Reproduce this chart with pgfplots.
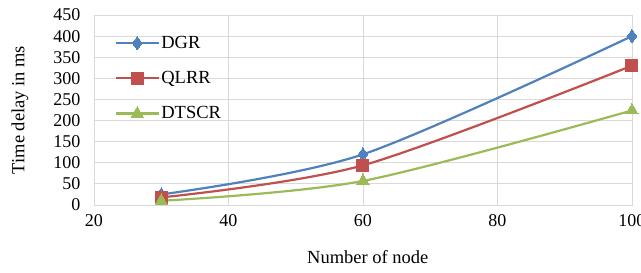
\documentclass[border=0pt]{standalone}
\usepackage{fontspec}
\setmainfont{Liberation Serif}
\usepackage{pgfplots}
\pgfplotsset{compat=1.18}
\definecolor{cblue}{HTML}{4F81BD}
\definecolor{cred}{HTML}{C0504D}
\definecolor{cgreen}{HTML}{9BBB59}
\definecolor{cgrid}{HTML}{D9D9D9}
\begin{document}
\begin{tikzpicture}
\begin{axis}[
  scale only axis,
  width=538pt, height=190pt,
  xmin=20, xmax=100, ymin=0, ymax=450,
  xtick={20,40,60,80,100}, ytick={0,50,...,450},
  grid=major,
  major grid style={cgrid, line width=0.9pt},
  axis line style={cgrid, line width=0.9pt},
  tick style={draw=none},
  /pgf/number format/assume math mode=true,
  tick label style={font=\fontsize{18}{22}\selectfont},
  xticklabel style={yshift=-6pt},
  yticklabel style={xshift=-10pt},
  xlabel={Number of node},
  ylabel={Time delay in ms},
  every axis x label/.style={at={(axis description cs:0.509,-0.274)},anchor=center,font=\fontsize{18.5}{22}\selectfont},
  every axis y label/.style={at={(axis description cs:-0.1375,0.5)},rotate=90,anchor=center,font=\fontsize{18.5}{22}\selectfont},
  legend style={at={(axis description cs:0.039,0.90)}, anchor=north west, draw=none, fill=none,
    font=\fontsize{18.5}{22}\selectfont, row sep=17.5pt, inner sep=0pt},
  legend cell align=left,
  legend image code/.code={\draw[mark repeat=2,mark phase=2] plot coordinates {(0pt,0pt)(21pt,0pt)(42pt,0pt)};},
  every axis plot/.append style={line width=2.2pt},
]
\addplot[cblue, smooth, mark=diamond*, mark size=6.5pt, mark options={line width=0pt, fill=cblue}] coordinates {(30,25) (60,120) (100,400)};
\addlegendentry{DGR}
\addplot[cred, smooth, mark=square*, mark size=6pt, mark options={line width=0pt, fill=cred}] coordinates {(30,18) (60,94) (100,330)};
\addlegendentry{QLRR}
\addplot[cgreen, smooth, mark=triangle*, mark size=7pt, mark options={line width=0pt, fill=cgreen}] coordinates {(30,10) (60,57) (100,224)};
\addlegendentry{DTSCR}
\end{axis}
\pgfresetboundingbox
\useasboundingbox (-94pt,-68pt) rectangle (547pt,205pt);
\end{tikzpicture}
\end{document}
